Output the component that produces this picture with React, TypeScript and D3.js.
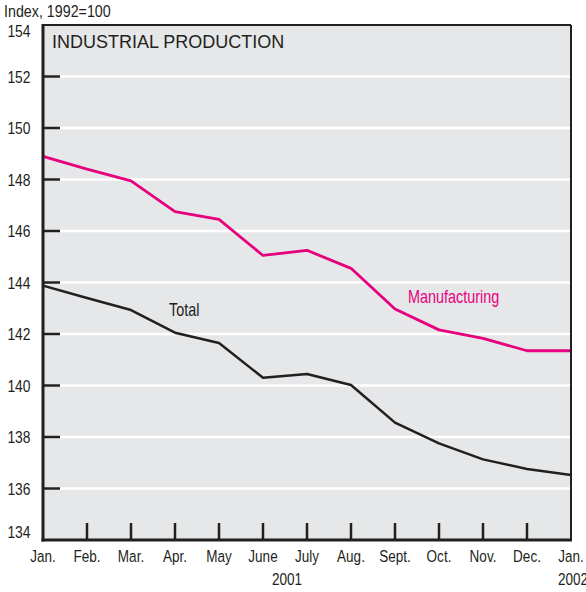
import React from "react";
import * as d3 from "d3";

const months = ["Jan.", "Feb.", "Mar.", "Apr.", "May", "June", "July", "Aug.", "Sept.", "Oct.", "Nov.", "Dec.", "Jan."];
const manufacturing = [148.9, 148.4, 147.95, 146.75, 146.45, 145.05, 145.25, 144.55, 142.97, 142.16, 141.83, 141.35, 141.35];
const total = [143.88, 143.4, 142.93, 142.05, 141.65, 140.3, 140.45, 140.02, 138.56, 137.75, 137.13, 136.76, 136.52];
const yTicks = [134, 136, 138, 140, 142, 144, 146, 148, 150, 152, 154];
const years = [{ label: "2001", from: 0, to: 11 }, { label: "2002", from: 12, to: 12 }];

const W = 586, H = 592;
const L = 43, R = 571, T = 25, B = 540;
const font = "'Liberation Sans', Arial, Helvetica, sans-serif";
const ink = "#231f20";
const pink = "#e6007e";

type NTProps = { x: number; y: number; sx: number; size: number; anchor?: string; fill?: string; children: React.ReactNode };
function NText({ x, y, sx, size, anchor = "start", fill = ink, children }: NTProps) {
  return (
    <text transform={`translate(${x},${y}) scale(${sx},1)`} textAnchor={anchor} fontFamily={font} fontSize={size} fill={fill}>
      {children}
    </text>
  );
}

export default function App() {
  const x = d3.scaleLinear().domain([0, 12]).range([L, R]);
  const y = d3.scaleLinear().domain([134, 154]).range([B, T]);
  const line = d3.line<number>().x((_, i) => x(i)).y((d) => y(d));

  const yLabelBase = (t: number) => {
    if (t === 154) return y(t) + 12;
    if (t === 134) return y(t) - 1.7;
    return y(t) + 6;
  };

  return (
    <svg width={W} height={H} style={{ position: "absolute", left: 0, top: 0 }}>
      <rect x={L} y={T} width={R - L} height={B - T} fill="#e6e7e8" />
      {yTicks.slice(1, -1).map((t) => (
        <line key={"g" + t} x1={L} x2={R} y1={y(t)} y2={y(t)} stroke="#ffffff" strokeWidth={2.5} />
      ))}
      {yTicks.slice(1, -1).map((t) => (
        <line key={"t" + t} x1={L} x2={L + 17} y1={y(t)} y2={y(t)} stroke={ink} strokeWidth={2.5} />
      ))}
      {months.slice(1, -1).map((m, i) => (
        <line key={"xt" + i} x1={x(i + 1)} x2={x(i + 1)} y1={B} y2={B - 17} stroke={ink} strokeWidth={2.5} />
      ))}
      <path d={line(total) || ""} fill="none" stroke={ink} strokeWidth={2.5} strokeLinejoin="round" />
      <path d={line(manufacturing) || ""} fill="none" stroke={pink} strokeWidth={2.8} strokeLinejoin="round" />
      {/* frame */}
      <line x1={L} x2={R} y1={T} y2={T} stroke={ink} strokeWidth={2} />
      <line x1={R} x2={R} y1={T} y2={B} stroke={ink} strokeWidth={2} />
      <line x1={L} x2={L} y1={T - 1} y2={B + 1.5} stroke={ink} strokeWidth={3} />
      <line x1={L - 1.5} x2={R + 1} y1={B} y2={B} stroke={ink} strokeWidth={3} />

      <NText x={4} y={16.5} sx={0.84} size={17}>Index, 1992=100</NText>
      {yTicks.map((t) => (
        <NText key={"yl" + t} x={30.5} y={yLabelBase(t)} sx={0.84} size={16.5} anchor="end">{t}</NText>
      ))}
      {months.map((m, i) => (
        <NText key={"xl" + i} x={x(i)} y={561.7} sx={0.82} size={16.5} anchor="middle">{m}</NText>
      ))}
      {years.map((yr) => (
        <NText key={yr.label} x={(x(yr.from) + x(yr.to)) / 2 + 2} y={585} sx={0.82} size={16.5} anchor="middle">{yr.label}</NText>
      ))}
      <text x={52} y={47.5} fontFamily={font} fontSize={18} fill={ink}>INDUSTRIAL PRODUCTION</text>
      <NText x={169} y={315.5} sx={0.8} size={18}>Total</NText>
      <NText x={408} y={302.5} sx={0.8} size={18} fill={pink}>Manufacturing</NText>
    </svg>
  );
}
